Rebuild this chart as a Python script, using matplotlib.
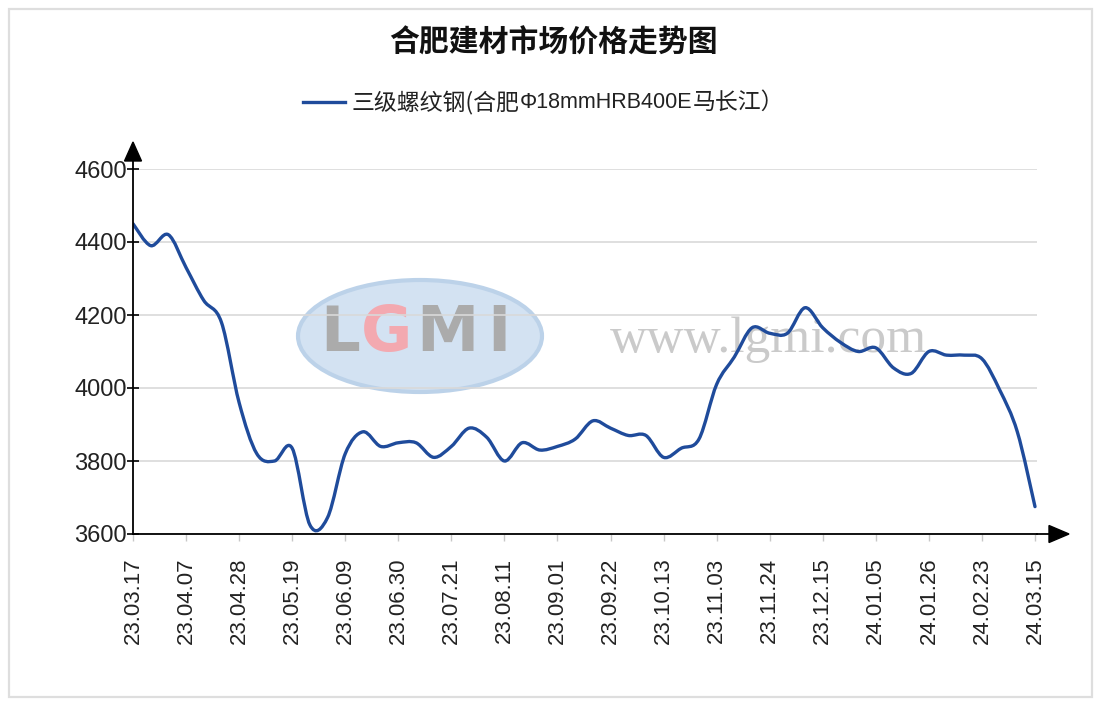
import numpy as np
import matplotlib
matplotlib.use("Agg")
import matplotlib.pyplot as plt
from matplotlib.path import Path
from matplotlib.patches import PathPatch, Rectangle, Ellipse, Polygon
from matplotlib.lines import Line2D

# ---------------- data ----------------
title = "合肥建材市场价格走势图"
series_name_parts = ["三级螺纹钢(合肥", "Φ18mmHRB400E", "马长江）"]
tick_labels = ["23.03.17", "23.04.07", "23.04.28", "23.05.19", "23.06.09", "23.06.30",
               "23.07.21", "23.08.11", "23.09.01", "23.09.22", "23.10.13", "23.11.03",
               "23.11.24", "23.12.15", "24.01.05", "24.01.26", "24.02.23", "24.03.15"]
prices = [4450, 4390, 4420, 4330, 4240, 4180, 3960, 3820, 3800, 3835,
          3625, 3645, 3820, 3880, 3840, 3850, 3850, 3810, 3840, 3890,
          3865, 3800, 3850, 3830, 3840, 3860, 3910, 3890, 3870, 3870,
          3810, 3835, 3860, 4010, 4085, 4165, 4150, 4150, 4220, 4165,
          4125, 4100, 4110, 4055, 4040, 4100, 4090, 4090, 4080, 3995,
          3880, 3675]
yticks = [3600, 3800, 4000, 4200, 4400, 4600]

# ---------------- figure ----------------
W, H = 1108, 711
fig = plt.figure(figsize=(W / 100, H / 100), dpi=100)
fig.patch.set_facecolor("white")

def fx(px):
    return px / W

def fy(py):
    return 1 - py / H

# outer border
fig.patches.append(Rectangle((fx(9), fy(697)), fx(1092) - fx(9), fy(9) - fy(697),
                             transform=fig.transFigure, fill=False,
                             edgecolor="#dedede", lw=1.6))

ax_l, ax_r, ax_t, ax_b = 133, 1037, 169, 534
ax = fig.add_axes([fx(ax_l), fy(ax_b), fx(ax_r) - fx(ax_l), fy(ax_t) - fy(ax_b)])
ax.set_facecolor("none")

n = len(prices)
x = np.arange(n)
px_per_idx = 902 / (n - 1)
ax.set_xlim(0, (n - 1) + (ax_r - ax_l - 902) / px_per_idx)
ax.set_ylim(yticks[0], yticks[-1])

def axc(px, py):
    return ((px - ax_l) / (ax_r - ax_l), (ax_b - py) / (ax_b - ax_t))

# watermark (behind)
e1 = Ellipse(axc(420, 336), 244 / (ax_r - ax_l), 112 / (ax_b - ax_t),
             transform=ax.transAxes, facecolor="#d3e2f2", edgecolor="#bcd2e9",
             lw=3, zorder=0)
ax.add_patch(e1)
letters = [("L", 340, "#ababab"), ("G", 387, "#f3a9b0"), ("M", 447, "#ababab"), ("I", 499, "#ababab")]
for ch, pxx, col in letters:
    ax.text(*axc(pxx, 334), ch, transform=ax.transAxes, ha="center", va="center",
            fontsize=45, fontweight="bold", color=col, family="DejaVu Sans",
            zorder=0.5)
ax.text(*axc(768, 340), "www.lgmi.com", transform=ax.transAxes, ha="center", va="center",
        fontsize=37, color="#cacaca", family="Liberation Serif", zorder=0.5)

# grid
ax.set_yticks(yticks)
ax.yaxis.grid(True, color="#d9d9d9", lw=1.2, zorder=1)
ax.set_axisbelow(True)

# smooth curve via Catmull-Rom -> cubic Bezier path
pts = np.column_stack([x, np.array(prices, dtype=float)])
verts = [tuple(pts[0])]
codes = [Path.MOVETO]
for i in range(n - 1):
    p0 = pts[i - 1] if i > 0 else pts[i]
    p1 = pts[i]
    p2 = pts[i + 1]
    p3 = pts[i + 2] if i + 2 < n else pts[i + 1]
    c1 = p1 + (p2 - p0) / 6.0
    c2 = p2 - (p3 - p1) / 6.0
    verts += [tuple(c1), tuple(c2), tuple(p2)]
    codes += [Path.CURVE4] * 3
line_color = "#1f4b9b"
ax.add_patch(PathPatch(Path(verts, codes), fill=False, edgecolor=line_color,
                       lw=2.4, zorder=3, capstyle="round", joinstyle="round"))

# spines
for s in ["top", "right"]:
    ax.spines[s].set_visible(False)
for s in ["left", "bottom"]:
    ax.spines[s].set_color("black")
    ax.spines[s].set_linewidth(1.3)
    ax.spines[s].set_zorder(4)

# axis extensions and arrows
ax.add_line(Line2D([0, 0], [1, axc(0, 160)[1]], transform=ax.transAxes,
                   color="black", lw=1.3, clip_on=False))
ax.add_line(Line2D([1, axc(1050, 0)[0]], [0, 0], transform=ax.transAxes,
                   color="black", lw=1.3, clip_on=False))
ax.add_patch(Polygon([axc(133, 142), axc(124.5, 161), axc(141.5, 161)], closed=True,
                     transform=ax.transAxes, color="black", clip_on=False, zorder=5))
ax.add_patch(Polygon([axc(1069, 534), axc(1049, 525.5), axc(1049, 542.5)], closed=True,
                     transform=ax.transAxes, color="black", clip_on=False, zorder=5))

# ticks
ax.set_yticklabels([str(v) for v in yticks], family="Liberation Sans", fontsize=17,
                   color="#222222")
ax.tick_params(axis="y", direction="inout", length=9, width=1.2, color="black", pad=0)
ax.set_xticks(x[::3])
ax.set_xticklabels(tick_labels, rotation=90, family="Liberation Sans", fontsize=16,
                   color="#222222")
ax.tick_params(axis="x", direction="out", length=5, width=1, color="#c8c8c8", pad=12)

# title
fig.text(fx(553), fy(43), title, ha="center", va="center", fontsize=21.5,
         fontweight="bold", family=["Noto Sans CJK SC", "DejaVu Sans"], color="#111111")

# legend (manual)
fig.add_artist(Line2D([fx(303), fx(345)], [fy(102), fy(102)], transform=fig.transFigure,
                      color=line_color, lw=2.4))
renderer = fig.canvas.get_renderer()
cur = 352
styles = [(16.5, ["Noto Sans CJK SC", "DejaVu Sans"]),
          (15.5, ["Liberation Sans", "DejaVu Sans"]),
          (16.5, ["Noto Sans CJK SC", "DejaVu Sans"])]
for part, (fs, fam) in zip(series_name_parts, styles):
    t = fig.text(fx(cur), fy(102), part, ha="left", va="center", fontsize=fs,
                 family=fam, color="#222222")
    bb = t.get_window_extent(renderer=renderer)
    cur += bb.width

fig.savefig("out.png", dpi=100, facecolor="white")
